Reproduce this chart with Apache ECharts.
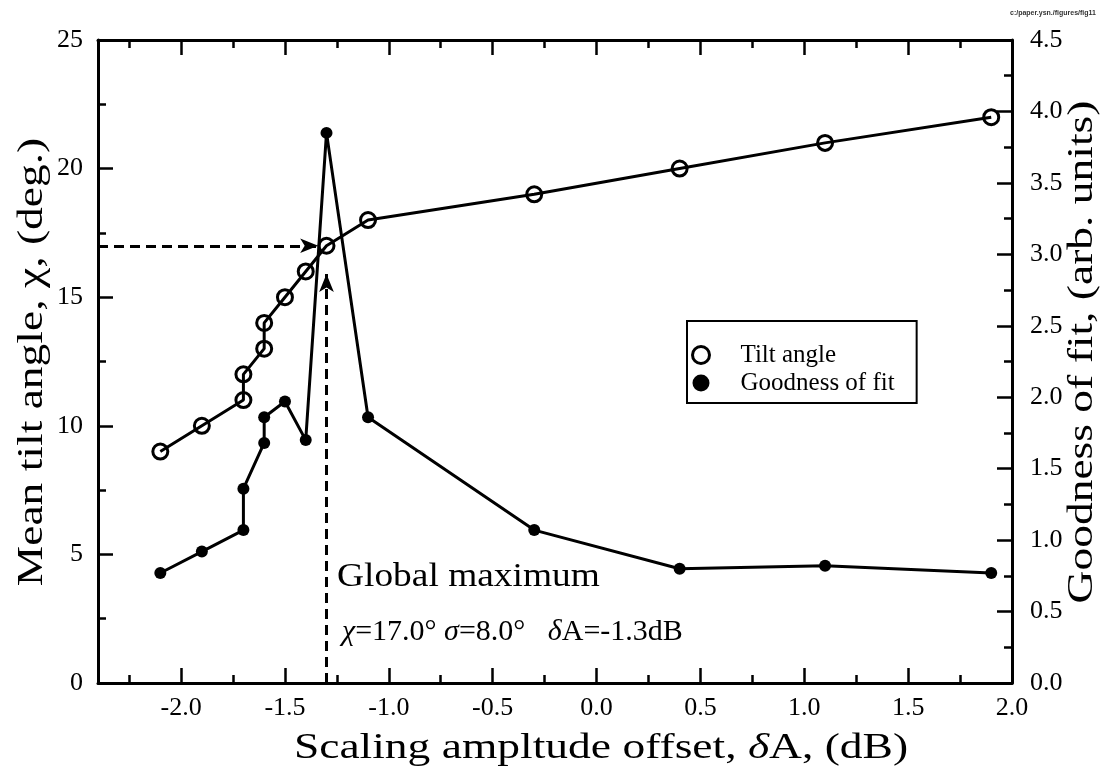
<!DOCTYPE html>
<html>
<head>
<meta charset="utf-8">
<script src="https://cdn.jsdelivr.net/npm/echarts@6/dist/echarts.min.js"></script>
<style>html,body{margin:0;padding:0;background:#fff;}#c{width:1106px;height:768px;}</style>
</head>
<body>
<div id="c"></div>
<script>
// ---- data ----
const offsetTilt = [-2.1, -1.9, -1.7, -1.7, -1.6, -1.6, -1.5, -1.4, -1.3, -1.1, -0.3, 0.4, 1.1, 1.9];
const tiltAngle  = [9, 10, 11, 12, 13, 14, 15, 16, 17, 18, 19, 20, 21, 22];
const offsetFit  = [-2.1, -1.9, -1.7, -1.7, -1.6, -1.6, -1.5, -1.4, -1.3, -1.1, -0.3, 0.4, 1.1, 1.9];
const goodnessFit = [0.77, 0.92, 1.07, 1.36, 1.68, 1.86, 1.97, 1.70, 3.85, 1.86, 1.07, 0.80, 0.82, 0.77];
const xMajorTicks = [-2.0, -1.5, -1.0, -0.5, 0.0, 0.5, 1.0, 1.5, 2.0];
const xMinorTicks = [-2.25, -1.75, -1.25, -0.75, -0.25, 0.25, 0.75, 1.25, 1.75];
const arrowH = [[-2.4, 17], [-1.34, 17]];
const arrowV = [[-1.3, 0], [-1.3, 15.9]];

const F = 'Liberation Serif';
const chart = echarts.init(document.getElementById('c'));
function xAx(pos, vals, len, showLine, showLabel) {
  return {
    type: 'value', min: -2.4, max: 2.0, position: pos, gridIndex: 0,
    axisLine: {show: showLine, onZero: false, lineStyle: {color: '#000', width: 3}},
    axisTick: {show: true, inside: true, length: len, customValues: vals, lineStyle: {color: '#000', width: 2.5}},
    axisLabel: {show: showLabel, customValues: vals, formatter: v => v.toFixed(1), color: '#000', fontFamily: F, fontSize: 26, margin: 12},
    splitLine: {show: false}
  };
}
const xAxes = [xAx('bottom', xMajorTicks, 15, true, true), xAx('bottom', xMinorTicks, 8, false, false),
               xAx('top', xMajorTicks, 15, true, false), xAx('top', xMinorTicks, 8, false, false)];

function yAx(pos, max, interval, margin, fmt) {
  return {type: 'value', min: 0, max: max, interval: interval, position: pos,
     axisLine: {show: true, onZero: false, lineStyle: {color: '#000', width: 3}},
     axisTick: {inside: true, length: 15, lineStyle: {color: '#000', width: 2.5}},
     minorTick: {show: true, splitNumber: 2, length: 8, lineStyle: {color: '#000', width: 2.5}},
     axisLabel: {color: '#000', fontFamily: F, fontSize: 26, margin: margin, formatter: fmt},
     splitLine: {show: false}, minorSplitLine: {show: false}};
}

chart.setOption({
  animation: false,
  backgroundColor: '#fff',
  grid: {left: 98, right: 94, top: 40, bottom: 85, containLabel: false},
  xAxis: xAxes,
  yAxis: [yAx('left', 25, 5, 15, v => String(v)), yAx('right', 4.5, 0.5, 18, v => v.toFixed(1))],
  legend: {
    orient: 'vertical', left: 687, top: 321,
    borderColor: '#000', borderWidth: 2, padding: [20, 22, 6, 4],
    itemWidth: 17, itemHeight: 17, itemGap: 0,
    textStyle: {fontFamily: F, fontSize: 25, color: '#000', lineHeight: 28, padding: [0, 0, 0, 26]},
    data: [
      {name: 'Tilt angle', icon: 'circle', itemStyle: {color: '#fff', borderColor: '#000', borderWidth: 3}},
      {name: 'Goodness of fit', icon: 'circle', itemStyle: {color: '#000'}}
    ]
  },
  series: [
    {name: 'Tilt angle', type: 'line', xAxisIndex: 0, yAxisIndex: 0,
     data: offsetTilt.map((x, i) => [x, tiltAngle[i]]),
     symbol: 'circle', symbolSize: 15,
     itemStyle: {color: 'rgba(255,255,255,0)', borderColor: '#000', borderWidth: 3},
     lineStyle: {color: '#000', width: 3},
     markLine: {silent: true, symbol: ['none', 'arrow'], symbolSize: [11, 18],
       label: {show: false},
       lineStyle: {color: '#000', width: 3, type: [10, 6]},
       data: [
         [{coord: arrowH[0]}, {coord: arrowH[1]}],
         [{coord: arrowV[0]}, {coord: arrowV[1]}]
       ]}
    },
    {name: 'Goodness of fit', type: 'line', xAxisIndex: 0, yAxisIndex: 1,
     data: offsetFit.map((x, i) => [x, goodnessFit[i]]),
     symbol: 'circle', symbolSize: 12,
     itemStyle: {color: '#000'},
     lineStyle: {color: '#000', width: 3}}
  ],
  graphic: [
    // axis titles
    {type: 'text', x: 601, y: 749, scaleX: 1.3, style: {
      text: '{a|Scaling ampltude offset, }{i|δ}{a|A, (dB)}', align: 'center', verticalAlign: 'middle',
      rich: {a: {fontFamily: F, fontSize: 35, fill: '#000'}, i: {fontFamily: F, fontSize: 35, fontStyle: 'italic', fill: '#000'}}}},
    {type: 'text', x: 33, y: 362, rotation: Math.PI / 2, scaleX: 1.3, style: {
      text: 'Mean tilt angle, χ, (deg.)', align: 'center', verticalAlign: 'middle', font: '35px "Liberation Serif"', fill: '#000'}},
    {type: 'text', x: 1083, y: 352, rotation: Math.PI / 2, scaleX: 1.3, style: {
      text: 'Goodness of fit, (arb. units)', align: 'center', verticalAlign: 'middle', font: '35px "Liberation Serif"', fill: '#000'}},
    // annotation
    {type: 'text', left: 337, top: 560, scaleX: 1.1, style: {text: 'Global maximum', font: '34px "Liberation Serif"', fill: '#000'}},
    {type: 'text', left: 342, top: 617, style: {
      text: '{i|χ}{a|=17.0° }{i|σ}{a|=8.0°   }{i|δ}{a|A=-1.3dB}',
      rich: {a: {fontFamily: F, fontSize: 30, fill: '#000'}, i: {fontFamily: F, fontSize: 30, fontStyle: 'italic', fill: '#000'}}}},
    {type: 'text', left: 1010, top: 10, style: {text: 'c:/paper.ysn./figures/fig11', font: 'bold 7px "Liberation Sans"', fill: '#333'}}
  ]
});
</script>
</body>
</html>
